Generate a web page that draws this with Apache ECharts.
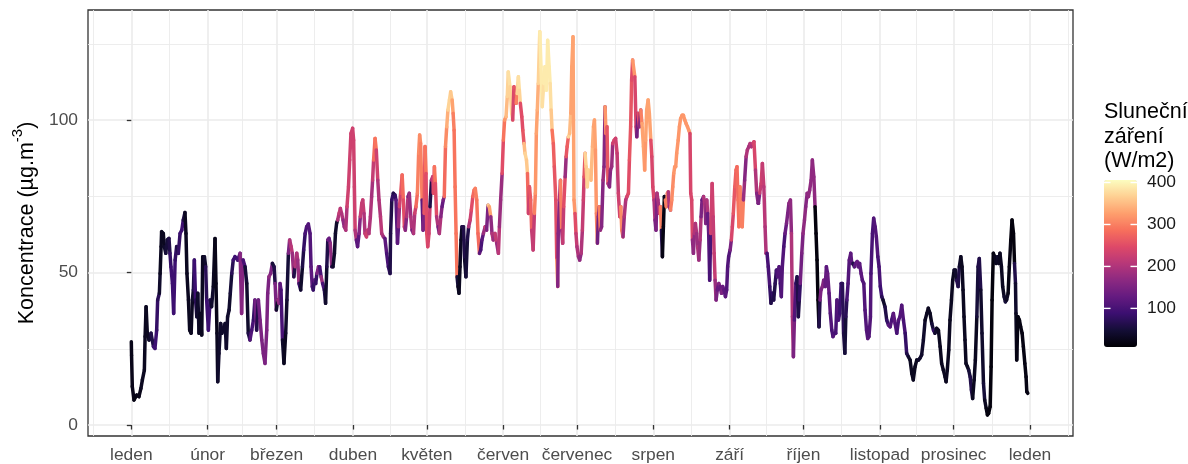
<!DOCTYPE html>
<html><head><meta charset="utf-8">
<script src="https://cdn.jsdelivr.net/npm/echarts@6/dist/echarts.min.js"></script>
<style>html,body{margin:0;padding:0;background:#fff}#c{width:1188px;height:464px}</style>
</head><body><div id="c"></div>
<script>
// ---- data ----
const monthStarts = [0,31,59,90,120,151,181,212,243,273,304,334,365];
const monthLabels = ['leden','únor','březen','duben','květen','červen','červenec','srpen','září','říjen','listopad','prosinec','leden'];
const monthBreaksExt = [-31,0,31,59,90,120,151,181,212,243,273,304,334,365,396];
const yTicks = [0,50,100];
const yMinor = [25,75,125];
const legendTicks = [100,200,300,400];

// day of year (0 = 1 January), concentration (µg/m3), solar radiation (W/m2)
const days = [
0.0,0.1,0.4,1.1,2.2,3.1,3.9,4.5,5.3,5.6, 6.0,6.5,7.2,8.0,9.0,9.6,10.3,10.7,11.4,11.7,
12.1,12.3,13.0,13.4,14.0,14.6,15.3,15.7,16.1,16.7, 17.2,17.8,18.4,19.1,19.8,20.5,21.1,21.8,22.2,22.6,
23.2,23.7,24.3,24.8,25.2,25.6,26.1,26.6,27.0,27.5, 28.0,28.6,29.0,29.7,30.2,30.6,31.3,32.0,32.6,33.3,
34.0,34.4,34.8,35.1,35.6,36.3,36.8,37.4,38.1,38.6, 39.1,39.7,40.2,40.8,41.4,42.1,43.2,44.2,44.8,45.4,
46.2,46.9,47.5,48.2,48.9,49.6,50.2,
50.9,51.6,52.3,53.0,53.6,54.3,55.0,55.4,55.9,56.6, 57.3,58.0,58.4,58.9,59.5,60.0,60.4,60.8,61.4,62.0,
62.7,63.2,63.8,64.3,64.9,65.4,66.0,66.5,67.2,67.6, 68.1,68.8,69.5,70.0,70.6,71.2,71.9,72.6,73.0,73.5,
73.9,74.3,74.9,75.4,76.0,76.5,77.1,77.7,78.4,78.9, 79.4,79.8,80.3,80.8,81.4,81.9,82.5,82.9,83.4,83.8,
84.4,84.9,85.4,86.0,86.5,87.1,87.6,88.2,88.7,89.2, 89.9,90.3,90.6,90.9,91.4,91.9,92.5,93.0,93.6,94.0,
94.5,94.9,95.5,96.0,96.5,97.1,97.6,98.0,98.4,99.0, 99.5,100.1,100.6,101.2,101.7,102.4,
103.0,103.7,104.4,105.1,105.3,105.8,106.4,107.1,107.5,108.1, 108.5,108.9,109.4,110.0,110.5,110.9,111.3,111.8,112.4,112.9,
113.5,114.0,114.6,115.1,115.6,116.2,116.7,117.1,117.5,118.1, 118.5,118.9,119.3,119.7,120.0,120.4,120.9,121.3,121.9,122.4,
122.7,123.1,123.5,124.0,124.6,125.1,125.7,126.2,126.7,127.1, 127.6,128.1,128.6,129.2,129.7,130.3,130.7,131.1,131.5,131.9,
132.3,132.7,133.1,133.5,133.9,134.3,134.9,135.4,135.9,136.5, 137.0,137.6,138.1,138.7,139.2,139.7,140.3,140.8,141.4,141.9,
142.4,143.0,143.7,144.3,144.9,145.4,146.0,146.5,147.0,147.7, 148.4,149.1,149.5,150.0,150.6,151.1,151.6,152.2,152.7,
153.1,153.8,154.5,154.9,155.4,155.8,156.3,156.7,157.2,157.6, 158.0,158.6,159.0,159.5,159.9,160.5,160.9,161.3,161.7,162.2,
162.6,163.2,163.7,164.1,164.5,164.9,165.3,165.9,166.4,166.9, 167.5,168.0,168.6,169.1,169.7,170.1,170.5,170.9,171.4,171.8,
172.4,172.8,173.2,173.4,173.9,174.3,174.8,175.2,175.6,176.2, 176.6,177.0,177.5,178.0,178.5,178.9,179.4,179.8,180.2,180.6,
181.0,181.6,182.1,182.7,183.2,183.6,183.9,184.3,184.7,185.2, 185.6,186.2,186.7,187.3,187.7,188.1,188.5,188.9,189.3,189.7,
190.1,190.5,191.0,191.6,192.0,192.4,192.8,193.2,193.6,194.2, 194.6,195.1,195.5,196.1,196.7,197.3,197.8,198.4,198.8,199.2,
199.7,200.2,200.8,201.3,201.9,202.3,202.8,203.2,203.6,
204.5,205.0,205.3,205.8,206.4,206.9,207.4,208.0,208.5,208.9, 209.3,209.9,210.4,211.0,211.4,211.8,212.3,212.7,213.1,213.5,
213.9,214.5,214.9,215.3,215.7,216.1,216.5,216.9,217.3,217.7, 218.1,218.5,219.0,219.5,219.9,220.3,220.7,221.1,221.5,222.1,
222.6,223.1,223.7,224.2,224.8,225.3,225.9,226.4,226.9,227.2, 227.6,227.9,228.3,228.7,229.1,229.6,230.0,230.5,231.0,231.4,
231.8,232.4,232.9,233.3,233.7,234.1,234.5,234.9,235.3,235.9, 236.3,236.7,237.1,237.5,238.0,238.6,239.1,239.7,240.2,240.7,
241.3,241.8,242.2,242.6,243.2,243.7,244.1,244.5,245.1,245.6, 246.0,246.4,246.8,247.2,247.7,248.1,248.6,249.1,249.7,250.2,
250.8,251.3,251.8,252.4,252.9,253.5,254.0,254.6,
254.7,255.2,255.8,256.3,256.9,257.4,257.8,258.2,258.7,259.3, 259.8,260.4,260.9,261.5,262.0,262.5,263.1,263.6,264.0,264.4,
265.0,265.5,266.1,266.6,267.1,267.7,268.1,268.5,268.9,269.3, 269.9,270.4,270.9,271.3,271.7,272.3,272.8,273.4,273.9,274.5,
275.0,275.5,276.1,276.6,277.2,277.7,278.1,278.5,278.9,279.3, 279.7,280.1,280.7,281.2,281.8,282.3,282.8,283.4,283.9,284.5,
285.0,285.6,286.1,286.6,287.2,287.7,288.3,288.8,289.3,289.8, 290.2,290.6,291.1,291.6,292.2,292.6,293.1,293.7,294.2,294.8,
295.3,295.8,296.4,296.9,297.5,298.0,298.6,299.1,299.6,300.2, 300.4,301.0,301.5,302.1,302.6,303.2,303.7,304.2,304.8,305.3,
306.1,306.8,307.5,308.2,308.8,309.5,310.2,310.9,311.6,312.2, 312.9,313.6,314.3,314.9,315.6,316.3,317.0,317.6,318.3,319.0,
319.7,320.3,321.0,321.7,322.4,323.1,323.7,324.4,325.1,325.8, 326.4,327.1,327.8,328.5,329.1,329.8,330.5,330.9,331.4,332.0,
332.5,333.1,333.6,334.2,334.7,335.2,335.8,336.3,336.9,337.4, 337.8,338.2,338.6,339.0,339.6,340.1,340.7,341.2,341.7,342.3,
342.8,343.4,343.9,344.4,345.0,345.5,346.1,346.6,347.2,347.7, 348.2,348.8,349.2,349.6,350.1,350.7,351.2,351.8,352.3,352.8,
353.4,353.9,354.5,355.0,355.5,356.1,356.6,357.2,357.7,358.3, 358.7,359.1,359.3,359.6,360.1,360.7,361.2,361.8,362.3,362.9,
363.4,363.7,364.1
];
const conc = [
27.3,22.9,12.6,8.2,9.8,9.3,12.0,14.8,18.0,29.0, 38.8,30.1,27.9,30.1,25.7,25.1,31.1,41.0,43.2,49.7,
58.5,63.4,62.8,58.5,56.3,60.7,61.2,56.3,51.9,46.4, 36.6,54.1,58.5,56.3,62.8,63.9,67.2,69.7,62.8,49.7,
41.0,31.1,30.1,41.0,44.3,54.1,41.0,35.5,43.2,30.1, 36.6,29.5,55.2,55.2,51.9,41.0,31.1,41.0,38.8,45.4,
61.2,46.4,30.1,14.2,23.5,33.3,30.1,31.7,33.3,25.1, 35.5,37.7,43.2,49.7,54.1,55.2,54.1,56.3,36.6,54.1,
51.9,46.4,30.1,27.9,31.1,34.4,41.0,
31.1,41.0,34.4,27.9,23.5,20.2,31.1,43.2,48.6,49.7, 53.0,51.9,46.4,37.7,41.0,39.9,46.4,44.3,27.9,20.2,
30.1,41.0,56.3,60.7,58.5,56.3,48.6,51.9,56.3,54.1, 46.4,44.3,51.9,57.4,62.8,65.0,65.9,62.8,51.9,45.4,
44.3,47.5,46.4,49.7,51.9,51.9,48.6,46.4,44.3,39.9, 51.9,60.7,61.2,59.6,51.9,51.9,56.3,62.8,66.3,67.2,
69.4,71.0,69.4,67.2,65.0,63.9,71.6,78.1,86.9,95.6, 97.3,93.4,78.1,63.9,60.7,58.5,62.8,68.3,72.7,73.8,
69.4,62.8,61.7,63.9,62.8,68.3,74.9,80.3,86.9,94.0, 90.2,80.3,73.8,68.3,62.8,61.7,
61.2,56.3,51.9,49.7,62.8,73.8,76.0,75.4,73.8,59.6, 65.0,71.6,76.0,82.0,73.8,65.0,63.9,68.3,74.9,76.0,
68.3,63.9,62.8,69.4,71.6,76.0,89.1,95.1,92.3,73.8, 63.9,69.4,91.3,82.5,62.8,58.5,62.8,71.6,80.3,81.4,
76.0,84.7,79.2,68.3,65.0,62.8,68.3,71.6,73.8,74.9, 91.3,97.8,103.3,106.6,109.3,106.6,102.2,96.7,78.1,62.8,
48.6,45.4,43.2,51.9,60.7,65.0,65.0,54.1,48.6,60.7, 65.0,67.2,70.5,74.9,77.0,77.6,73.8,62.8,56.3,57.4,
60.7,62.8,65.0,63.9,72.1,71.6,68.3,62.8,60.7,62.8, 59.6,56.3,65.0,73.8,82.5,93.4,100.0,101.1,107.7,
115.8,110.9,102.2,100.0,110.9,109.8,105.5,108.7,114.2,109.8, 105.5,101.1,96.7,92.3,89.1,86.9,82.5,69.4,78.1,73.8,
63.9,57.4,69.4,76.0,95.6,103.3,112.0,129.0,117.5,104.4, 112.0,117.5,109.8,126.2,117.5,112.0,103.3,96.7,92.3,84.7,
73.8,54.1,45.4,62.8,73.8,80.3,63.9,59.6,71.6,81.4, 88.0,91.3,94.5,95.6,102.2,117.5,127.3,73.8,69.4,62.8,
58.5,55.2,54.1,56.3,63.9,73.8,81.4,89.1,84.7,78.1, 83.6,82.5,80.3,91.3,97.8,100.0,90.2,69.4,59.6,68.3,
71.6,63.9,65.0,80.3,84.7,104.4,95.6,97.8,79.2,78.1, 83.6,84.7,92.3,93.4,94.0,89.1,76.0,68.3,71.6,63.9,
61.7,68.3,73.8,74.9,76.0,86.9,97.8,113.1,119.7,
114.2,97.8,94.5,102.2,97.8,103.3,98.9,91.3,83.6,93.4, 103.3,106.6,102.2,93.4,88.0,78.1,73.8,67.2,63.9,76.0,
73.8,69.4,71.6,63.9,55.2,65.0,74.9,73.8,71.6,76.0, 76.5,71.6,70.5,73.8,78.1,82.5,84.7,84.7,89.1,93.4,
97.8,100.5,101.6,101.6,100.0,98.9,97.8,96.7,95.6,76.0, 73.8,60.7,56.3,62.8,66.1,62.8,58.5,54.1,60.7,68.3,
73.8,74.9,72.7,66.1,73.8,69.4,62.8,47.5,62.8,79.2, 68.3,56.3,47.5,41.0,44.3,46.4,45.4,43.2,45.4,44.3,
42.1,44.3,51.9,55.2,57.4,60.7,65.0,69.4,78.1,83.6, 84.7,73.8,65.0,78.1,69.4,65.0,73.8,80.3,88.0,90.2,
91.3,92.3,91.3,92.3,92.9,83.6,76.0,72.7,
72.7,76.0,79.2,85.8,78.1,65.0,56.3,56.3,51.9,45.4, 39.9,43.2,41.0,46.4,50.8,48.6,51.9,46.4,42.1,51.9,
58.5,62.8,66.1,69.4,72.7,73.8,62.8,35.5,22.4,34.4, 46.4,48.6,35.5,41.0,46.4,56.3,62.8,67.2,71.6,76.0,
74.9,77.0,80.3,86.9,81.4,71.6,62.8,54.1,41.0,32.2, 41.0,44.3,45.4,47.5,45.4,51.9,49.7,43.2,36.6,31.1,
29.0,30.1,30.1,41.0,34.4,36.6,46.4,46.4,30.1,23.5, 35.5,41.0,46.4,54.1,56.3,53.0,53.0,51.9,53.0,53.6,
51.9,53.0,49.7,47.5,46.4,37.7,31.1,28.4,29.0,35.5, 49.7,62.8,67.8,65.0,61.7,55.2,51.9,45.4,42.1,41.0,
38.8,34.4,32.8,32.2,34.4,36.6,33.3,30.1,34.4,35.5, 39.3,34.4,30.1,23.5,22.4,21.3,16.9,14.8,19.1,21.3,
21.3,21.9,23.0,27.9,34.4,36.6,38.3,36.6,33.3,31.1, 30.1,31.7,31.1,25.7,20.2,18.0,15.8,14.2,18.0,24.6,
34.4,41.0,47.5,50.8,50.8,47.5,45.4,51.9,55.2,51.9, 44.3,35.5,27.9,20.2,19.1,18.0,15.8,11.5,8.7,14.8,
21.3,35.5,51.9,54.6,44.3,30.1,13.7,8.2,5.5,3.3, 3.8,6.0,19.1,41.0,56.3,55.2,53.0,55.2,53.0,56.3,
51.9,45.4,42.1,40.4,41.0,43.2,51.9,60.7,67.2,62.8, 53.0,46.4,36.6,21.3,35.5,34.4,32.2,30.1,25.7,20.2,
15.8,10.9,10.4
];
const solar = [
25,25,25,20,25,25,30,30,30,30, 30,30,40,60,90,90,80,70,40,30,
30,30,30,40,50,50,60,80,90,90, 90,80,60,80,90,90,60,30,30,30,
30,30,30,40,60,90,70,40,40,30, 30,30,30,40,70,90,90,60,40,30,
25,25,30,40,40,40,40,40,40,40, 40,40,50,70,90,90,100,160,160,100,
50,40,60,110,100,80,140,
60,140,150,150,150,150,150,150,170,150, 50,60,150,40,180,170,120,100,40,30,
40,50,150,200,210,180,60,200,200,180, 80,40,60,80,100,110,110,110,120,100,
80,120,80,150,160,100,180,100,60,40, 60,140,130,170,60,40,40,40,40,200,
220,210,200,170,180,200,230,230,230,230, 230,230,230,200,120,120,160,220,220,220,
200,220,230,220,200,200,190,220,280,290, 230,200,200,210,200,180,
120,100,80,60,60,80,60,80,120,120, 180,230,260,280,250,220,160,200,150,180,
200,150,200,230,280,300,310,310,300,120, 150,260,290,250,250,240,230,60,200,220,
250,290,250,200,150,200,160,130,150,280, 310,340,370,370,360,330,300,290,290,290,
50,30,30,30,30,60,60,40,50,60, 200,230,250,280,290,300,290,280,120,100,
120,180,220,150,360,330,170,200,180,220, 180,210,180,180,250,290,320,350,370,
380,370,370,240,260,250,300,370,380,370, 250,250,260,350,370,360,280,230,260,270,
220,220,300,320,330,340,370,390,390,380, 390,390,390,390,390,380,360,290,270,260,
250,320,160,160,200,300,180,220,250,180, 260,270,370,350,330,330,330,320,250,220,
200,180,170,200,220,230,260,370,360,370, 370,370,350,340,330,330,320,300,140,160,
300,170,160,180,160,320,300,260,200,160, 170,180,230,240,230,220,230,240,310,300,
180,200,210,240,250,260,260,250,320,
240,220,140,250,170,300,330,330,320,330, 330,330,330,250,240,240,200,150,150,200,
190,220,300,60,20,20,30,300,300,310, 200,180,300,310,310,320,320,320,320,320,
320,320,320,320,320,320,320,320,240,240, 240,170,170,200,200,180,200,180,200,150,
130,200,200,150,200,130,120,100,230,230, 220,220,180,150,130,160,130,150,130,120,
120,110,110,110,150,240,240,260,270,280, 280,290,290,300,300,300,180,160,200,200,
190,210,200,220,240,200,160,150,
150,220,230,220,210,200,200,100,100,80, 60,80,60,70,100,110,110,90,110,110,
100,130,150,150,170,170,200,190,150,110, 80,60,60,80,140,150,170,170,160,170,
170,170,170,170,170,15,15,15,15,60, 150,150,160,150,130,120,130,120,110,100,
110,100,100,110,100,90,80,70,60,50, 70,100,110,120,120,120,60,120,120,130,
120,120,120,110,110,110,110,120,110,110, 100,100,110,110,110,100,100,90,70,40,
60,80,120,110,100,120,110,100,110,110, 110,100,80,60,40,30,30,30,30,30,
40,40,40,40,30,30,30,30,50,80, 40,30,30,30,30,30,30,30,30,30,
30,30,30,40,40,70,60,40,30,30, 30,30,30,30,30,50,60,60,30,30,
30,50,60,60,40,40,50,30,20,15, 15,15,15,15,20,30,30,40,30,30,
30,30,40,50,30,20,20,15,15,15, 60,40,30,20,20,20,20,20,20,20,
20,20,20
];

// ---- chart ----
const FONT = '"Liberation Sans", Arial, sans-serif';
const magma = ['#000004','#140E36','#3B0F70','#641A80','#8C2981','#B73779','#DE4968','#F7705C','#FE9F6D','#FECF92','#FCFDBF'];
const X_MIN = -17.59, X_MAX = 382.46, Y_MIN = -3.6, Y_MAX = 136.1;
const S_MIN = 8, S_MAX = 406;
const LEG_LEFT = 1104, LEG_TOP = 180, LEG_W = 33, LEG_H = 167;

const xMinor = [];
for (let i = 0; i < monthBreaksExt.length - 1; i++) xMinor.push((monthBreaksExt[i] + monthBreaksExt[i+1]) / 2);

const segs = [];
for (let i = 0; i < days.length - 1; i++) segs.push([days[i], conc[i], solar[i], days[i+1], conc[i+1]]);

const legY = v => LEG_TOP + (S_MAX - v) / (S_MAX - S_MIN) * LEG_H;
const graphics = [{
  type: 'text', left: LEG_LEFT, top: 100,
  style: { text: 'Sluneční\nzáření\n(W/m2)', font: '21.5px ' + FONT, fill: '#000', lineHeight: 24.5 }
}];
legendTicks.forEach(v => {
  const y = legY(v);
  graphics.push({ type: 'line', shape: { x1: LEG_LEFT, y1: y, x2: LEG_LEFT + 6.5, y2: y }, style: { stroke: '#fff', lineWidth: 1.4 }, z: 100 });
  graphics.push({ type: 'line', shape: { x1: LEG_LEFT + LEG_W - 6.5, y1: y, x2: LEG_LEFT + LEG_W, y2: y }, style: { stroke: '#fff', lineWidth: 1.4 }, z: 100 });
  graphics.push({ type: 'text', x: LEG_LEFT + LEG_W + 10, y: y, style: { text: String(v), font: '17.4px ' + FONT, fill: '#1a1a1a', textVerticalAlign: 'middle' }, z: 100 });
});

const chart = echarts.init(document.getElementById('c'), null, { renderer: 'canvas' });
chart.setOption({
  animation: false,
  backgroundColor: '#fff',
  grid: { left: 88, top: 10, width: 985, height: 426, show: true, borderColor: '#333333', borderWidth: 1.3, backgroundColor: '#fff',
          containLabel: false, outerBoundsMode: 'none' },
  xAxis: [{
    type: 'value', min: X_MIN, max: X_MAX,
    axisLine: { show: false },
    axisTick: { show: true, length: 4.5, lineStyle: { color: '#333', width: 1.3 }, customValues: monthStarts },
    axisLabel: { customValues: monthStarts, formatter: v => monthLabels[monthStarts.indexOf(v)] || '', fontSize: 17.4, color: '#4d4d4d', fontFamily: FONT, margin: 11 },
    splitLine: { show: true, lineStyle: { color: '#ebebeb', width: 1.6 } }
  }, {
    type: 'value', min: X_MIN, max: X_MAX, position: 'bottom',
    axisLine: { show: false }, axisLabel: { show: false },
    axisTick: { show: false, customValues: xMinor },
    splitLine: { show: true, lineStyle: { color: '#ebebeb', width: 0.9 } }
  }],
  yAxis: [{
    type: 'value', min: Y_MIN, max: Y_MAX,
    name: 'Koncentrace (µg.m{sup|-3})', nameLocation: 'middle', nameGap: 44, nameRotate: 90, nameMoveOverlap: false,
    nameTextStyle: { fontSize: 21.5, color: '#000', fontFamily: FONT, lineHeight: 34,
      rich: { sup: { fontSize: 15, fontFamily: FONT, color: '#000', verticalAlign: 'top', lineHeight: 17 } } },
    axisLine: { show: false },
    axisTick: { show: true, length: 4.5, lineStyle: { color: '#333', width: 1.3 }, customValues: yTicks },
    axisLabel: { customValues: yTicks, fontSize: 17.4, color: '#4d4d4d', fontFamily: FONT, margin: 10 },
    splitLine: { show: true, lineStyle: { color: '#ebebeb', width: 1.6 } }
  }, {
    type: 'value', min: Y_MIN, max: Y_MAX, position: 'left',
    axisLine: { show: false }, axisLabel: { show: false },
    axisTick: { show: false, customValues: yMinor },
    splitLine: { show: true, lineStyle: { color: '#ebebeb', width: 0.9 } }
  }],
  visualMap: {
    type: 'continuous', min: S_MIN, max: S_MAX, dimension: 2, seriesIndex: 0,
    inRange: { color: magma }, calculable: false, hoverLink: false,
    itemWidth: LEG_W, itemHeight: LEG_H, left: LEG_LEFT, top: LEG_TOP, padding: 0,
    text: null, showLabel: false
  },
  graphic: graphics,
  series: [{
    type: 'custom', xAxisIndex: 0, yAxisIndex: 0, clip: true,
    data: segs,
    encode: { x: [0, 3], y: [1, 4] },
    renderItem: (params, api) => {
      const p0 = api.coord([api.value(0), api.value(1)]);
      const p1 = api.coord([api.value(3), api.value(4)]);
      return {
        type: 'line',
        shape: { x1: p0[0], y1: p0[1], x2: p1[0], y2: p1[1] },
        style: { stroke: api.visual('color'), lineWidth: 3.5, lineCap: 'round' }
      };
    }
  }]
});
</script>
</body></html>
